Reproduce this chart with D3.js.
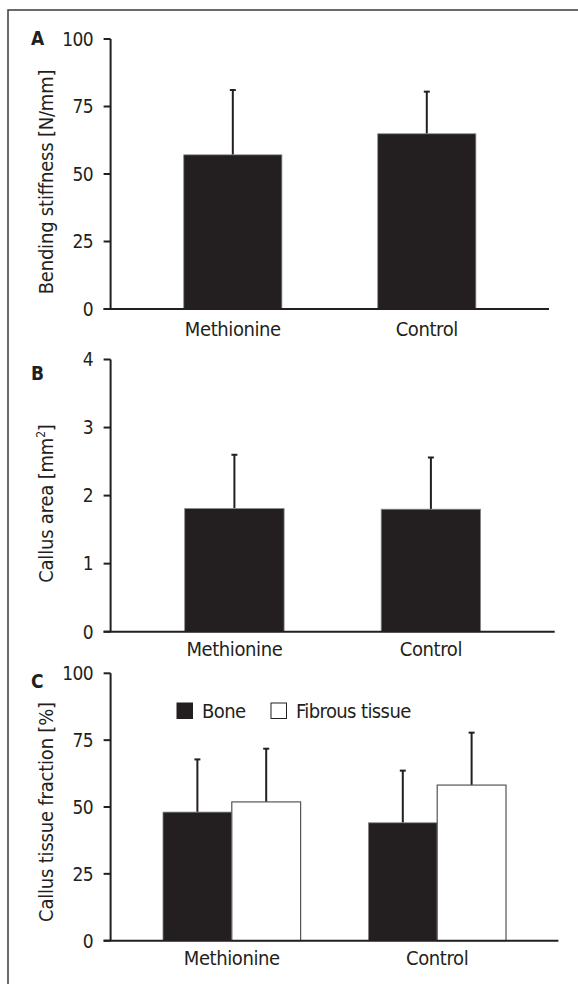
<!DOCTYPE html>
<html>
<head>
<meta charset="utf-8">
<script src="https://cdn.jsdelivr.net/npm/d3@7"></script>
<style>
  body { margin: 0; background: #fff; }
  svg text { font-family: "Liberation Sans Narrow", "DejaVu Sans Condensed", sans-serif; fill: #231f20; }
</style>
</head>
<body>
<div id="chart"></div>
<script>
// data
const groups = ["Methionine", "Control"]
const stiffness = [57.1, 64.9]
const stiffnessSd = [24.0, 15.6]
const callusArea = [1.81, 1.80]
const callusAreaSd = [0.79, 0.76]
const tissueTypes = ["Bone", "Fibrous tissue"]
const boneFraction = [48.1, 44.1]
const boneSd = [19.7, 19.5]
const fibrousFraction = [51.9, 58.2]
const fibrousSd = [19.9, 19.6]
const ticksA = [0, 25, 50, 75, 100]
const ticksB = [0, 1, 2, 3, 4]
const ticksC = [0, 25, 50, 75, 100]

function drawFigure(){
    let width = 578
    let height = 984
    let axisX = 110.6
    let dark = "#231f20"
    let svg = d3.select("#chart")
        .append("svg")
            .attr("width", width)
            .attr("height", height)

    // frame (only left and top edges visible)
    svg.append("path")
        .attr("d", `M8,${height} L8,10 L${width},10`)
        .attr("fill", "none")
        .attr("stroke", "#3a3a3a")
        .attr("stroke-width", 1.5)

    function drawAxes(y, ticks, xEnd, yLabel, panel, labelY, catY, x, bodyY){
        // y axis
        svg.append("line")
            .attr("x1", axisX).attr("x2", axisX)
            .attr("y1", y(ticks[ticks.length-1])).attr("y2", y(0))
            .attr("stroke", dark).attr("stroke-width", 2)
        svg.selectAll(".tick" + panel)
            .data(ticks)
            .enter()
            .append("line")
                .attr("x1", axisX - 7).attr("x2", axisX)
                .attr("y1", d => y(d)).attr("y2", d => y(d))
                .attr("stroke", dark).attr("stroke-width", 2)
        svg.selectAll(".tickLabel" + panel)
            .data(ticks)
            .enter()
            .append("text")
                .attr("x", 93)
                .attr("y", d => y(d))
                .attr("dy", "0.36em")
                .attr("text-anchor", "end")
                .attr("font-size", 19)
                .attr("letter-spacing", -0.6)
                .text(d => d)
        // x axis
        svg.append("line")
            .attr("x1", axisX - 7).attr("x2", xEnd)
            .attr("y1", y(0)).attr("y2", y(0))
            .attr("stroke", dark).attr("stroke-width", 2)
        svg.selectAll(".cat" + panel)
            .data(groups)
            .enter()
            .append("text")
                .attr("x", d => x(d) + x.bandwidth()/2)
                .attr("y", catY)
                .attr("text-anchor", "middle")
                .attr("font-size", 20)
                .attr("letter-spacing", -0.4)
                .text(d => d)
        // y label
        let yl = svg.append("text")
            .attr("transform", `translate(53,${bodyY}) rotate(-90)`)
            .attr("text-anchor", "middle")
            .attr("font-size", 20)
            .attr("letter-spacing", -0.2)
        if (Array.isArray(yLabel)){
            yl.append("tspan").text(yLabel[0])
            yl.append("tspan").attr("font-size", 12).attr("dy", -8).text(yLabel[1])
            yl.append("tspan").attr("dy", 8).text(yLabel[2])
        } else {
            yl.text(yLabel)
        }
        // panel letter
        svg.append("text")
            .attr("x", 31)
            .attr("y", labelY)
            .attr("font-size", 19)
            .attr("font-weight", "bold")
            .text(panel)
    }

    function errorBar(cx, yTop, yEnd){
        svg.append("line")
            .attr("x1", cx).attr("x2", cx)
            .attr("y1", yTop).attr("y2", yEnd)
            .attr("stroke", dark).attr("stroke-width", 2)
        svg.append("line")
            .attr("x1", cx - 3).attr("x2", cx + 3)
            .attr("y1", yEnd).attr("y2", yEnd)
            .attr("stroke", dark).attr("stroke-width", 2)
    }

    function simplePanel(vals, sds, ticks, top, bottom, xEnd, yLabel, panel, labelY, catY){
        let y = d3.scaleLinear()
            .domain([0, ticks[ticks.length-1]])
            .range([bottom, top])
        let x = d3.scaleBand()
            .domain(groups)
            .range([axisX, xEnd])
            .paddingInner(0.494)
            .paddingOuter(0.377)
        groups.forEach(function(g, i){
            errorBar(x(g) + x.bandwidth()/2, y(vals[i]), y(vals[i] + sds[i]))
        })
        svg.selectAll(".bar" + panel)
            .data(vals)
            .enter()
            .append("rect")
                .attr("x", (d, i) => x(groups[i]))
                .attr("width", x.bandwidth())
                .attr("y", d => y(d))
                .attr("height", d => y(0) - y(d))
                .attr("fill", dark)
                .attr("stroke", "#8a8a8a")
                .attr("stroke-width", 0.8)
        drawAxes(y, ticks, xEnd, yLabel, panel, labelY, catY, x, (top + bottom)/2 + 8)
    }

    simplePanel(stiffness, stiffnessSd, ticksA, 39, 309, 549,
        "Bending stiffness [N/mm]", "A", 45, 336)
    simplePanel(callusArea, callusAreaSd, ticksB, 359.5, 631.7, 554.7,
        ["Callus area [mm", "2", "]"], "B", 380, 656)

    // panel C: grouped bars
    let top = 673.3, bottom = 940.7, xEnd = 558.4
    let y = d3.scaleLinear().domain([0, 100]).range([bottom, top])
    let x = d3.scaleBand()
        .domain(groups)
        .range([axisX, xEnd])
        .paddingInner(0.33)
        .paddingOuter(0.255)
    let xSub = d3.scaleBand()
        .domain(tissueTypes)
        .range([0, x.bandwidth()])
    let series = [
        {type: "Bone", vals: boneFraction, sds: boneSd, fill: dark, stroke: "#8a8a8a"},
        {type: "Fibrous tissue", vals: fibrousFraction, sds: fibrousSd, fill: "#fff", stroke: "#555"}
    ]
    series.forEach(function(s){
        groups.forEach(function(g, i){
            errorBar(x(g) + xSub(s.type) + xSub.bandwidth()/2, y(s.vals[i]), y(s.vals[i] + s.sds[i]))
        })
        svg.selectAll(".barC" + s.type.replace(" ", ""))
            .data(s.vals)
            .enter()
            .append("rect")
                .attr("x", (d, i) => x(groups[i]) + xSub(s.type))
                .attr("width", xSub.bandwidth())
                .attr("y", d => y(d))
                .attr("height", d => y(0) - y(d))
                .attr("fill", s.fill)
                .attr("stroke", s.stroke)
                .attr("stroke-width", s.fill == "#fff" ? 1.2 : 0.8)
    })
    drawAxes(y, ticksC, xEnd, "Callus tissue fraction [%]", "C", 688, 965, x, (top + bottom)/2 + 5)

    // legend
    let legendX = [177, 271]
    series.forEach(function(s, i){
        svg.append("rect")
            .attr("x", legendX[i]).attr("y", 703)
            .attr("width", 15.5).attr("height", 15.5)
            .attr("fill", s.fill)
            .attr("stroke", dark)
            .attr("stroke-width", 1)
        svg.append("text")
            .attr("x", legendX[i] + 25)
            .attr("y", 718)
            .attr("font-size", 20)
            .attr("letter-spacing", -0.6)
            .text(s.type)
    })
}
drawFigure()
</script>
</body>
</html>
